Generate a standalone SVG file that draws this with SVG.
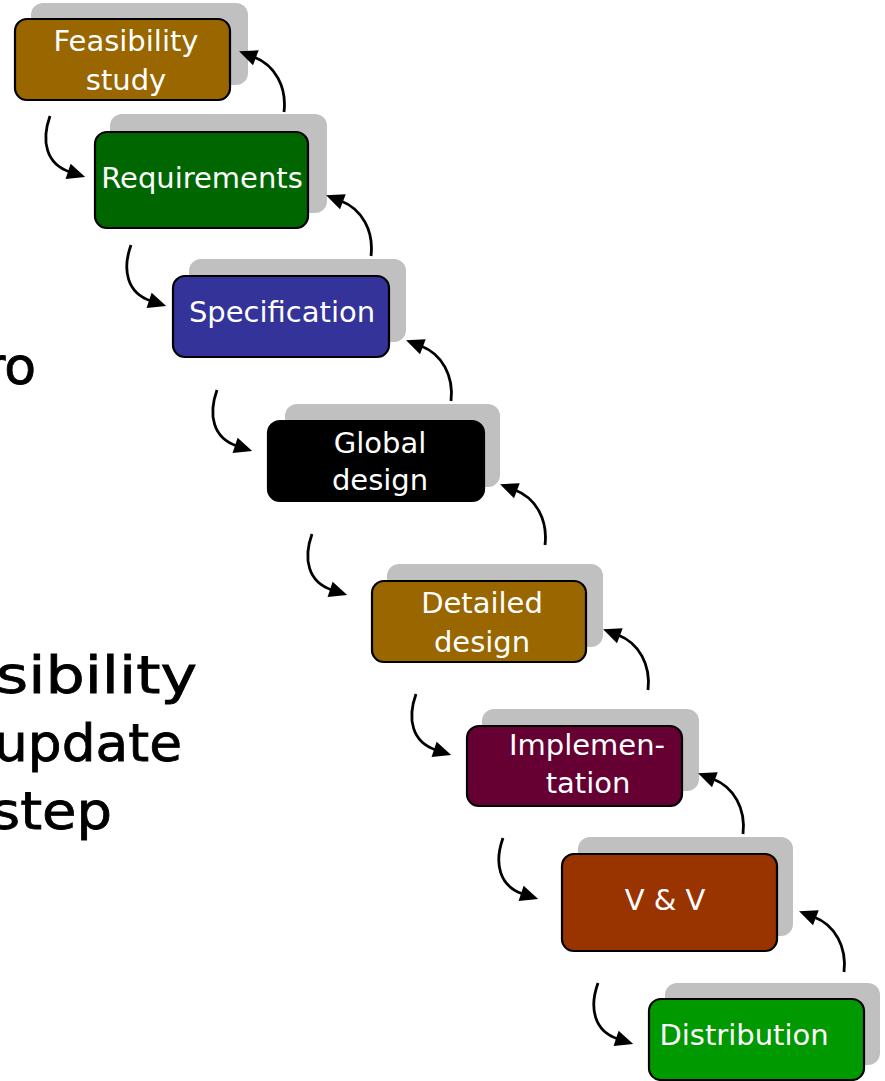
<svg xmlns="http://www.w3.org/2000/svg" width="885" height="1081" viewBox="0 0 885 1081">
  <style>
    .shadow { fill: #c0c0c0; }
    .box { stroke: #000000; stroke-width: 2.2; }
    .label { font-family: "DejaVu Sans", "Noto Sans", sans-serif; font-size: 29px; fill: #ffffff; text-anchor: middle; }
    .side { font-family: "DejaVu Sans", "Noto Sans", sans-serif; font-size: 52px; fill: #000000; stroke: #000000; stroke-width: 0.8; }
    .flow { fill: none; stroke: #000000; stroke-width: 2.8; marker-end: url(#head); }
  </style>
  <defs>
    <marker id="head" markerUnits="userSpaceOnUse" markerWidth="20" markerHeight="18" refX="2" refY="8" orient="auto" overflow="visible">
      <path d="M0,0 L18,8 L0,16 z" fill="#000000"/>
    </marker>
  </defs>

  <rect width="885" height="1081" fill="#ffffff"/>

  <!-- slide body text, clipped at the left edge -->
  <g id="side-text">
    <text class="side" x="36" y="384" text-anchor="end">ro</text>
    <text class="side" x="-4" y="693" textLength="201" lengthAdjust="spacingAndGlyphs">sibility</text>
    <text class="side" x="-6" y="761" textLength="188" lengthAdjust="spacingAndGlyphs">update</text>
    <text class="side" x="-9" y="829" textLength="121" lengthAdjust="spacingAndGlyphs">step</text>
  </g>

  <!-- waterfall phases -->
  <g id="feasibility">
    <rect class="shadow" x="31" y="3" width="217" height="82" rx="12"/>
    <rect class="box" x="15" y="19" width="215" height="81" rx="12" fill="#996600"/>
    <text class="label" x="126" y="51">Feasibility</text>
    <text class="label" x="126" y="90">study</text>
  </g>
  <g id="requirements">
    <rect class="shadow" x="110" y="114" width="217" height="99" rx="12"/>
    <rect class="box" x="95" y="132" width="213" height="96" rx="12" fill="#006600"/>
    <text class="label" x="202" y="188">Requirements</text>
  </g>
  <g id="specification">
    <rect class="shadow" x="189" y="259" width="217" height="83" rx="12"/>
    <rect class="box" x="173" y="276" width="216" height="81" rx="12" fill="#333399"/>
    <text class="label" x="282" y="322">Specification</text>
  </g>
  <g id="global-design">
    <rect class="shadow" x="285" y="404" width="215" height="83" rx="12"/>
    <rect class="box" x="268" y="421" width="216" height="80" rx="12" fill="#000000"/>
    <text class="label" x="380" y="453">Global</text>
    <text class="label" x="380" y="490">design</text>
  </g>
  <g id="detailed-design">
    <rect class="shadow" x="387" y="564" width="216" height="83" rx="12"/>
    <rect class="box" x="372" y="581" width="214" height="81" rx="12" fill="#996600"/>
    <text class="label" x="482" y="613">Detailed</text>
    <text class="label" x="482" y="652">design</text>
  </g>
  <g id="implementation">
    <rect class="shadow" x="482" y="709" width="217" height="82" rx="12"/>
    <rect class="box" x="467" y="726" width="215" height="80" rx="12" fill="#660033"/>
    <text class="label" x="587" y="755">Implemen-</text>
    <text class="label" x="588" y="793">tation</text>
  </g>
  <g id="v-and-v">
    <rect class="shadow" x="578" y="837" width="215" height="99" rx="12"/>
    <rect class="box" x="562" y="854" width="215" height="97" rx="12" fill="#993300"/>
    <text class="label" x="665" y="910">V &amp; V</text>
  </g>
  <g id="distribution">
    <rect class="shadow" x="665" y="983" width="215" height="82" rx="12"/>
    <rect class="box" x="649" y="999" width="215" height="81" rx="12" fill="#009900"/>
    <text class="label" x="744" y="1045">Distribution</text>
  </g>

  <!-- forward and feedback arrows between phases -->
  <g id="connectors">
    <path class="flow" d="M50,116 c-9,25 -4,48 20,56"/>
    <path class="flow" d="M131,245 c-9,25 -4,48 20,56"/>
    <path class="flow" d="M217,390 c-9,25 -4,48 20,56"/>
    <path class="flow" d="M312,534 c-9,25 -4,48 20,56"/>
    <path class="flow" d="M416,694 c-9,25 -4,48 20,56"/>
    <path class="flow" d="M503,838 c-9,25 -4,48 20,56"/>
    <path class="flow" d="M598,983 c-9,25 -4,48 20,56"/>

    <path class="flow" d="M284,112 c3,-25 -9,-47 -30,-55"/>
    <path class="flow" d="M371,256 c3,-25 -9,-47 -30,-55"/>
    <path class="flow" d="M451,401 c3,-25 -9,-47 -30,-55"/>
    <path class="flow" d="M545,545 c3,-25 -9,-47 -30,-55"/>
    <path class="flow" d="M648,690 c3,-25 -9,-47 -30,-55"/>
    <path class="flow" d="M743,834 c3,-25 -9,-47 -30,-55"/>
    <path class="flow" d="M844,972 c3,-25 -9,-47 -30,-55"/>
  </g>
</svg>
